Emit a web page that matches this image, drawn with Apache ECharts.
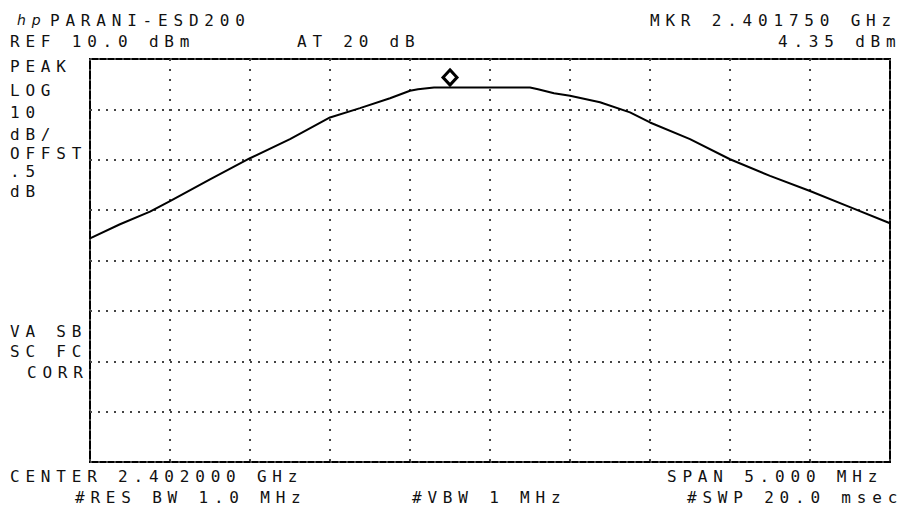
<!DOCTYPE html>
<html>
<head>
<meta charset="utf-8">
<script src="https://cdn.jsdelivr.net/npm/echarts@6/dist/echarts.min.js"></script>
<style>
  html, body { margin: 0; padding: 0; background: #fff; }
  #chart { width: 907px; height: 507px; }
  #chart text { letter-spacing: 5.8px !important; }
</style>
</head>
<body>
<div id="chart"></div>
<script>
// Trace readings: frequency (MHz) and level (dBm)
const freqMHz = [2399.5, 2399.6875, 2399.875, 2400.0, 2400.25, 2400.5, 2400.75, 2401.0, 2401.1875, 2401.375, 2401.5, 2401.55, 2401.65, 2401.75, 2402.25, 2402.3, 2402.4, 2402.5, 2402.6875, 2402.875, 2403.0, 2403.25, 2403.5, 2403.75, 2404.0, 2404.25, 2404.5];
const levelDbm = [-25.6, -22.8, -20.3, -18.2, -13.9, -9.7, -5.9, -1.6, 0.25, 2.2, 3.7, 4.0, 4.35, 4.35, 4.35, 4.0, 3.2, 2.7, 1.4, -0.6, -2.6, -5.9, -9.9, -13.2, -16.2, -19.4, -22.6];

// Marker
const markerFreq = 2401.75;
const markerLevel = 4.35;

// Axis scale
const startFreq = 2399.5, stopFreq = 2404.5, freqDiv = 0.5;
const refLevel = 10, bottomLevel = -70, dbDiv = 10;

// Annotation texts
const titleText = 'PARANI-ESD200';
const logoText = 'hp';
const refText = 'REF 10.0 dBm';
const attenText = 'AT 20 dB';
const markerFreqText = 'MKR 2.401750 GHz';
const markerLevelText = '4.35 dBm';
const leftTopLabels = ['PEAK', 'LOG', '10', 'dB/', 'OFFST', '.5', 'dB'];
const leftBottomLabels = ['VA SB', 'SC FC', 'CORR'];
const centerText = 'CENTER 2.402000 GHz';
const resBwText = '#RES BW 1.0 MHz';
const vbwText = '#VBW 1 MHz';
const spanText = 'SPAN 5.000 MHz';
const sweepText = '#SWP 20.0 msec';

const FONT = '16px "DejaVu Sans Mono"';
function txt(s, x, y, font) {
  return { type: 'text', x: x, y: y, silent: true,
    style: { text: s, font: font || FONT, fill: '#111', verticalAlign: 'middle', align: 'left' } };
}

const leftTopY = [66.5, 90, 112.5, 134, 153, 171, 191];
const leftBottomPos = [[10, 331], [10, 351], [27, 372]];

const graphics = [
  txt(logoText, 17, 20, 'italic 14px "DejaVu Sans"'),
  txt(titleText, 50, 20),
  txt(refText, 10, 41),
  txt(attenText, 297, 41),
  txt(markerFreqText, 650, 20),
  txt(markerLevelText, 778, 41),
  txt(centerText, 10, 476),
  txt(resBwText, 75, 497),
  txt(vbwText, 412, 497),
  txt(spanText, 667, 476),
  txt(sweepText, 687, 497)
];
leftTopLabels.forEach((s, i) => graphics.push(txt(s, 10, leftTopY[i])));
leftBottomLabels.forEach((s, i) => graphics.push(txt(s, leftBottomPos[i][0], leftBottomPos[i][1])));

const chart = echarts.init(document.getElementById('chart'), null, { renderer: 'svg' });
chart.setOption({
  animation: false,
  backgroundColor: '#fff',
  grid: { left: 90, right: 17, top: 59, bottom: 45, show: true, borderColor: '#000', borderWidth: 2, backgroundColor: 'transparent' },
  xAxis: {
    type: 'value', min: startFreq, max: stopFreq, interval: freqDiv,
    axisLine: { show: false }, axisTick: { show: false }, axisLabel: { show: false },
    splitLine: { show: true, lineStyle: { color: '#444', width: 2, type: [2, 8] } }
  },
  yAxis: {
    type: 'value', min: bottomLevel, max: refLevel, interval: dbDiv,
    axisLine: { show: false }, axisTick: { show: false }, axisLabel: { show: false },
    splitLine: { show: true, lineStyle: { color: '#444', width: 2, type: [2, 6] } }
  },
  series: [
    {
      type: 'line', data: freqMHz.map((f, i) => [f, levelDbm[i]]),
      showSymbol: false, lineStyle: { color: '#000', width: 2 }, silent: true, z: 3
    },
    {
      type: 'scatter', data: [[markerFreq, markerLevel]],
      symbol: 'diamond', symbolSize: [14, 15], symbolOffset: [0, -10],
      itemStyle: { color: '#fff', borderColor: '#000', borderWidth: 3, opacity: 1 }, silent: true, z: 4
    }
  ],
  graphic: graphics
});
</script>
</body>
</html>
